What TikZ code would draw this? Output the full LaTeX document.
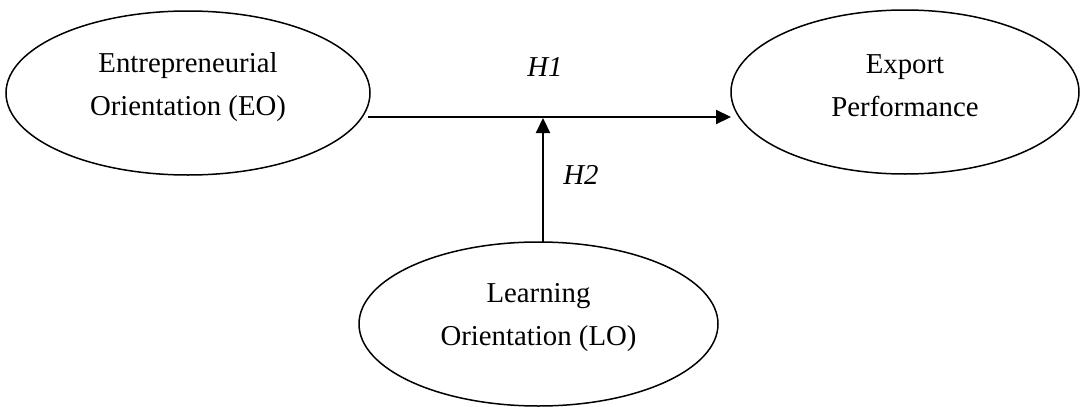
\documentclass[tikz,border=0pt]{standalone}
\usepackage{fontspec}
\setmainfont{Liberation Serif}
\usetikzlibrary{shapes.geometric,arrows.meta}
\begin{document}
\begin{tikzpicture}[x=1pt,y=-1pt,
  ell/.style={draw,ellipse,line width=1.5pt,inner sep=0pt},
  txt/.style={align=center,font=\fontsize{28.8}{43}\selectfont},
  hlab/.style={font=\fontsize{28.8}{34}\selectfont\itshape},
  arr/.style={line width=2.2pt,-{Triangle[length=15pt,width=14pt]}}]
\useasboundingbox (0,0) rectangle (1082,407);
\node[ell,minimum width=364pt,minimum height=164pt] (eo) at (188,93) {};
\node[txt] (eot) at (188,87) {Entrepreneurial\\Orientation (EO)};
\node[ell,minimum width=348pt,minimum height=164pt] (ep) at (905,92) {};
\node[txt] (ept) at (905,86) {Export\\Performance};
\node[ell,minimum width=359pt,minimum height=164pt] (lo) at (538.5,324) {};
\node[txt] (lot) at (538.5,318) {Learning\\Orientation (LO)};
\coordinate (h1s) at (368,117);
\coordinate (h1e) at (731,117);
\coordinate (h2s) at (543,243);
\coordinate (h2e) at (543,118);
\draw[arr] (h1s) -- (h1e);
\draw[arr] (h2s) -- (h2e);
\node[hlab] (h1) at (545,67) {H1};
\node[hlab] (h2) at (581,175) {H2};
\end{tikzpicture}
\end{document}
